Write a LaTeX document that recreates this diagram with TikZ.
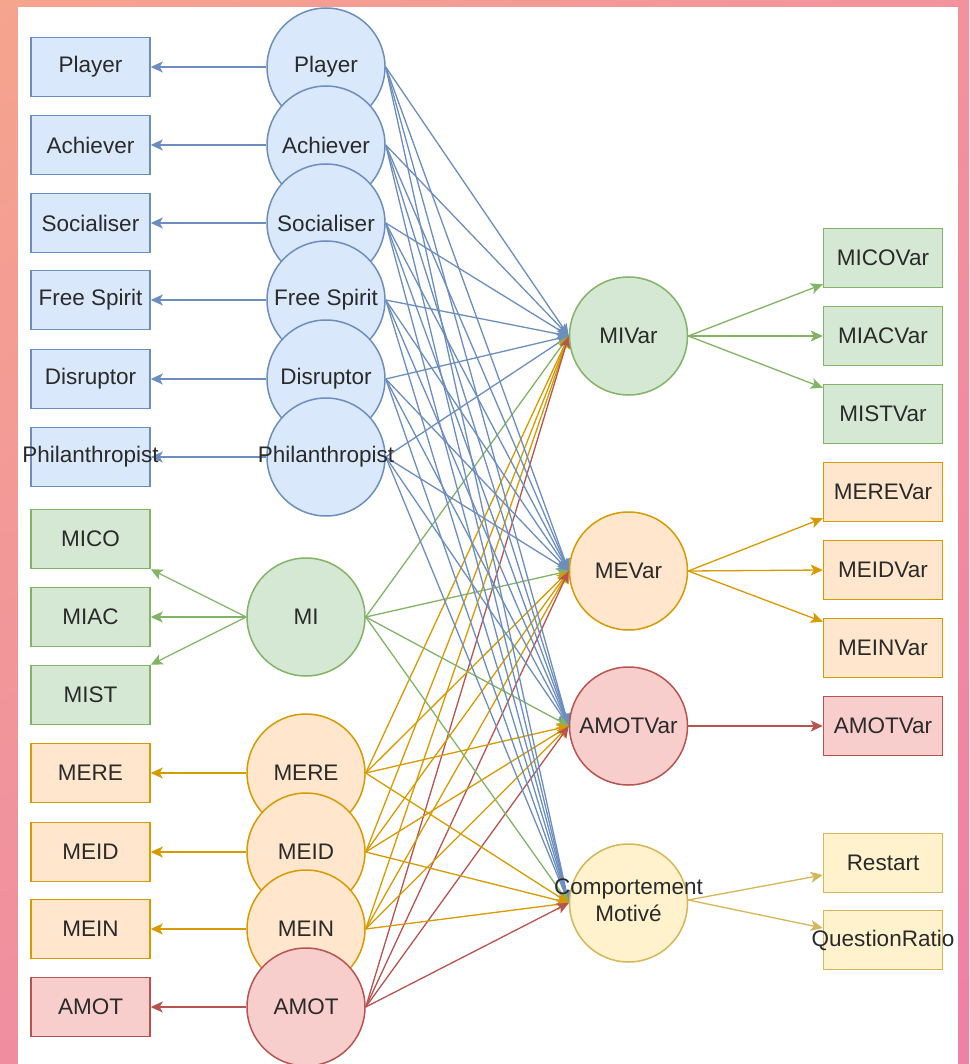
\documentclass[tikz,border=0pt]{standalone}
\usepackage{fontspec}
\setmainfont{Liberation Sans}
\usetikzlibrary{arrows.meta,backgrounds,shadings}
\definecolor{bfill}{HTML}{DAE8FC}\definecolor{bline}{HTML}{6C8EBF}
\definecolor{gfill}{HTML}{D5E8D4}\definecolor{gline}{HTML}{82B366}
\definecolor{ofill}{HTML}{FFE6CC}\definecolor{oline}{HTML}{D79B00}
\definecolor{rfill}{HTML}{F8CECC}\definecolor{rline}{HTML}{B85450}
\definecolor{yfill}{HTML}{FFF2CC}\definecolor{yline}{HTML}{D6B656}
\definecolor{txt}{HTML}{2A2A2A}
\definecolor{bgTL}{RGB}{245,164,142}
\definecolor{bgTR}{RGB}{243,146,156}
\definecolor{bgBL}{RGB}{240,142,160}
\definecolor{bgBR}{RGB}{240,128,166}
\newcommand{\ovl}[1]{\makebox[0pt][c]{#1}}
\tikzset{
  lbl/.style={font=\fontsize{22.5}{26}\selectfont, text=txt},
  box/.style={lbl, draw, rectangle, minimum width=119pt, minimum height=59pt, inner sep=0pt, line width=1.5pt},
  circ/.style={lbl, draw, circle, minimum size=118pt, inner sep=0pt, line width=1.5pt},
  arr/.style={line width=1.3pt, -{Stealth[length=12pt,width=11pt,inset=3pt]}},
  sBlue/.style={fill=bfill, draw=bline},
  sGreen/.style={fill=gfill, draw=gline},
  sOrange/.style={fill=ofill, draw=oline},
  sRed/.style={fill=rfill, draw=rline},
  sYellow/.style={fill=yfill, draw=yline},
}
\begin{document}
\begin{tikzpicture}[x=1pt,y=-1pt]
\useasboundingbox (0,0) rectangle (969,1064);
\begin{scope}[on background layer]
\shade[upper left=bgTL, upper right=bgTR, lower left=bgBL, lower right=bgBR] (0,0) rectangle (969,1064);
\fill[white] (18,7) rectangle (958,1064);
\end{scope}

% left boxes
\node[box, sBlue] (bPlayer) at (90.5,67) {Player};
\node[box, sBlue] (bAchiever) at (90.5,145) {Achiever};
\node[box, sBlue] (bSocialiser) at (90.5,223) {Socialiser};
\node[box, sBlue] (bFree) at (90.5,300) {Free Spirit};
\node[box, sBlue] (bDisruptor) at (90.5,379) {Disruptor};
\node[box, sBlue] (bPhil) at (90.5,457) {\ovl{Philanthropist}};
\node[box, sGreen] (bMICO) at (90.5,539) {MICO};
\node[box, sGreen] (bMIAC) at (90.5,617) {MIAC};
\node[box, sGreen] (bMIST) at (90.5,695) {MIST};
\node[box, sOrange] (bMERE) at (90.5,773) {MERE};
\node[box, sOrange] (bMEID) at (90.5,852) {MEID};
\node[box, sOrange] (bMEIN) at (90.5,929) {MEIN};
\node[box, sRed] (bAMOT) at (90.5,1007) {AMOT};

% left circles
\node[circ, sBlue] (cPlayer) at (326,67) {Player};
\node[circ, sBlue] (cAchiever) at (326,145) {Achiever};
\node[circ, sBlue] (cSocialiser) at (326,223) {Socialiser};
\node[circ, sBlue] (cFree) at (326,300) {\ovl{Free Spirit}};
\node[circ, sBlue] (cDisruptor) at (326,379) {Disruptor};
\node[circ, sBlue] (cPhil) at (326,457) {\ovl{Philanthropist}};
\node[circ, sGreen] (cMI) at (306,617) {MI};
\node[circ, sOrange] (cMERE) at (306,773) {MERE};
\node[circ, sOrange] (cMEID) at (306,852) {MEID};
\node[circ, sOrange] (cMEIN) at (306,929) {MEIN};
\node[circ, sRed] (cAMOT) at (306,1007) {AMOT};

% right circles
\node[circ, sGreen] (tMI) at (628.5,336) {MIVar};
\node[circ, sOrange] (tME) at (628.5,571) {MEVar};
\node[circ, sRed] (tAM) at (628.5,726) {AMOTVar};
\node[circ, sYellow] (tCM) at (628.5,903) {\ovl{\begin{tabular}{@{}c@{}}Comportement\\[1pt]Motiv\'e\end{tabular}}};

% right boxes
\node[box, sGreen] (rMICO) at (883,258) {MICOVar};
\node[box, sGreen] (rMIAC) at (883,336) {MIACVar};
\node[box, sGreen] (rMIST) at (883,414) {MISTVar};
\node[box, sOrange] (rMERE) at (883,492) {MEREVar};
\node[box, sOrange] (rMEID) at (883,570) {MEIDVar};
\node[box, sOrange] (rMEIN) at (883,648) {MEINVar};
\node[box, sRed] (rAMOT) at (883,726) {AMOTVar};
\node[box, sYellow] (rRestart) at (883,863) {Restart};
\node[box, sYellow] (rQR) at (883,940) {\ovl{QuestionRatio}};

\begin{scope}[on background layer]
% left arrows
\foreach \n in {Player,Achiever,Socialiser,Free,Disruptor,Phil}
  \draw[arr, bline] (c\n.west) -- (b\n.east);
\draw[arr, gline] (cMI.west) -- (bMICO.south east);
\draw[arr, gline] (cMI.west) -- (bMIAC.east);
\draw[arr, gline] (cMI.west) -- (bMIST.north east);
\foreach \n in {MERE,MEID,MEIN}
  \draw[arr, oline] (c\n.west) -- (b\n.east);
\draw[arr, rline] (cAMOT.west) -- (bAMOT.east);

% fan-in arrows
\foreach \t in {tMI,tME,tAM,tCM}{
  \foreach \s in {cPlayer,cAchiever,cSocialiser,cFree,cDisruptor,cPhil}
    \draw[arr, bline] (\s.east) -- (\t.west);
  \draw[arr, gline] (cMI.east) -- (\t.west);
  \foreach \s in {cMERE,cMEID,cMEIN}
    \draw[arr, oline] (\s.east) -- (\t.west);
  \draw[arr, rline] (cAMOT.east) -- (\t.west);
}

% right arrows
\draw[arr, gline] (tMI.east) -- ([yshift=4pt]rMICO.south west);
\draw[arr, gline] (tMI.east) -- (rMIAC.west);
\draw[arr, gline] (tMI.east) -- ([yshift=-4pt]rMIST.north west);
\draw[arr, oline] (tME.east) -- ([yshift=4pt]rMERE.south west);
\draw[arr, oline] (tME.east) -- (rMEID.west);
\draw[arr, oline] (tME.east) -- ([yshift=-4pt]rMEIN.north west);
\draw[arr, rline] (tAM.east) -- (rAMOT.west);
\draw[arr, yline] ([yshift=3pt]tCM.east) -- ([yshift=-12pt]rRestart.west);
\draw[arr, yline] ([yshift=3pt]tCM.east) -- ([yshift=12pt]rQR.west);
\end{scope}
\end{tikzpicture}
\end{document}
